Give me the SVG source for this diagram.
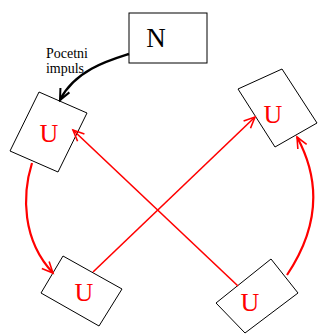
<svg xmlns="http://www.w3.org/2000/svg" width="320" height="334" viewBox="0 0 320 334">
<style>
.box{fill:#fff;stroke:#000;stroke-width:1}
.u{font-family:"Liberation Serif",serif;font-size:26px;fill:#ff0000;text-anchor:middle}
.red{fill:none;stroke:#ff0000;stroke-width:1.6}
.redc{fill:none;stroke:#ff0000;stroke-width:2.2}
.blk{fill:none;stroke:#000;stroke-width:2.4}
.lbl{font-family:"Liberation Serif",serif;font-size:14px;fill:#000;text-anchor:middle}
</style>
<defs>
<marker id="ar" markerUnits="userSpaceOnUse" markerWidth="16" markerHeight="16" refX="13" refY="8" orient="auto"><path d="M2,3 L13,8 L2,13" fill="none" stroke="#ff0000" stroke-width="1.6"/></marker>
<marker id="ak" markerUnits="userSpaceOnUse" markerWidth="16" markerHeight="16" refX="13" refY="8" orient="auto"><path d="M2,3 L13,8 L2,13" fill="none" stroke="#000" stroke-width="2"/></marker>
</defs>
<rect width="320" height="334" fill="#fff"/>
<g id="nodeN">
<rect class="box" x="129" y="13" width="78" height="50"/>
<text x="156" y="47" font-family="Liberation Serif, serif" font-size="27" fill="#000" text-anchor="middle">N</text>
</g>
<g id="nodeUL">
<polygon class="box" points="39,92 87,113 58,172 10,151"/>
<text class="u" x="49" y="142">U</text>
</g>
<g id="nodeUR">
<polygon class="box" points="238,89 282,69 317,123 275,147"/>
<text class="u" x="273" y="123">U</text>
</g>
<g id="nodeBL">
<polygon class="box" points="63,256 122,289 99,326 41,293"/>
<text class="u" x="84" y="301">U</text>
</g>
<g id="nodeBR">
<polygon class="box" points="271,259 298,293 245,333 216,303"/>
<text class="u" x="250" y="311">U</text>
</g>
<g id="connectors">
<path class="blk" d="M129,54 C110,60 75,70 60,100" marker-end="url(#ak)"/>
<text class="lbl" x="67" y="58">Pocetni</text>
<text class="lbl" x="65" y="73">impuls</text>
<path class="red" d="M93,272 L255,117" marker-end="url(#ar)"/>
<path class="red" d="M238,286 L73,130" marker-end="url(#ar)"/>
<path class="redc" d="M32,163 C22,195 22,240 53,273" marker-end="url(#ar)"/>
<path class="redc" d="M287,275 Q334,205 297,137" marker-end="url(#ar)"/>
</g>
</svg>
